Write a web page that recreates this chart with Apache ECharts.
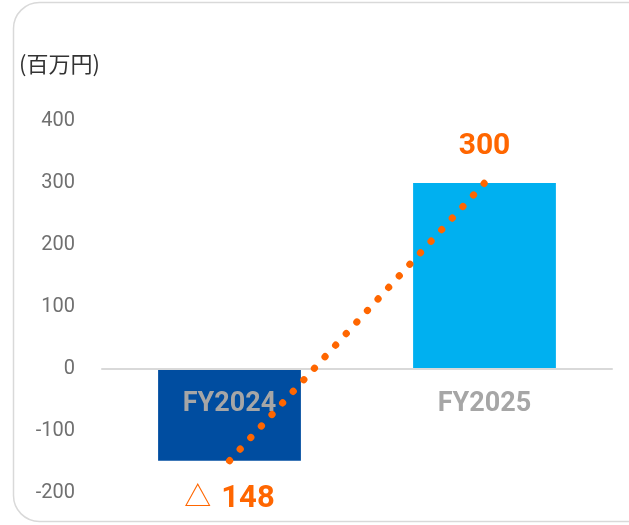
<!DOCTYPE html>
<html>
<head>
<meta charset="utf-8">
<script src="https://cdn.jsdelivr.net/npm/echarts@6/dist/echarts.min.js"></script>
<style>
html,body{margin:0;padding:0;background:#fff;}
#chart{width:629px;height:525px;}
</style>
</head>
<body>
<div id="chart"></div>
<script>
// data
const categories = ['FY2024', 'FY2025'];
const profitValues = [-148, 300];
const barColors = ['#004DA0', '#00B0F0'];
const yTicks = { min: -200, max: 400, interval: 100 };
const unitLabel = '(百万円)';

const orange = '#FF6600';
const font = 'Roboto, "Noto Sans CJK JP", sans-serif';

const chart = echarts.init(document.getElementById('chart'));

const option = {
    animation: false,
    textStyle: { fontFamily: font },
    graphic: [
        {
            type: 'rect',
            shape: { x: 13.5, y: 2.5, width: 640, height: 519, r: 26 },
            style: { fill: 'none', stroke: '#D9D9D9', lineWidth: 1.5 },
            z: -10
        },
        {
            type: 'text',
            left: 19,
            top: 53,
            style: {
                text: unitLabel,
                fontSize: 22,
                fill: '#333',
                fontFamily: '"Noto Sans CJK JP", sans-serif'
            }
        }
    ],
    grid: {
        left: 102, right: 17, top: 121, bottom: 32,
        outerBoundsMode: 'none',
        containLabel: false
    },
    xAxis: {
        type: 'category',
        data: categories,
        z: 5,
        axisLine: { lineStyle: { color: '#D9D9D9', width: 2 } },
        axisTick: { show: false },
        axisLabel: {
            // labels sit just under the zero line, not at the grid bottom
            margin: -102,
            fontSize: 27,
            fontWeight: 'bold',
            color: '#A6A6A6'
        }
    },
    yAxis: {
        type: 'value',
        min: yTicks.min,
        max: yTicks.max,
        interval: yTicks.interval,
        axisLine: { show: false },
        axisTick: { show: false },
        splitLine: { show: false },
        axisLabel: { margin: 27, fontSize: 20, color: '#707070' }
    },
    series: [
        {
            type: 'bar',
            barCategoryGap: '44%',
            z: 2,
            data: profitValues.map((v, i) => ({
                value: v,
                itemStyle: { color: barColors[i] },
                label: v < 0 ? {
                    show: true,
                    position: 'bottom',
                    distance: 23,
                    formatter: '{t|△}{s| }{n|' + Math.abs(v) + '}',
                    rich: {
                        t: { fontSize: 27, color: orange, fontWeight: 'normal' },
                        s: { fontSize: 27, width: 10 },
                        n: { fontSize: 31, color: orange, fontWeight: 'bold' }
                    }
                } : {
                    show: true,
                    position: 'top',
                    distance: 22,
                    formatter: String(v),
                    fontSize: 30,
                    fontWeight: 'bold',
                    color: orange
                }
            }))
        },
        {
            type: 'line',
            data: profitValues,
            z: 10,
            symbol: 'none',
            lineStyle: {
                color: orange,
                width: 7,
                type: [0.3, 15.38],
                cap: 'round'
            }
        }
    ]
};

chart.setOption(option);
window.addEventListener('resize', function () { chart.resize(); });
</script>
</body>
</html>
